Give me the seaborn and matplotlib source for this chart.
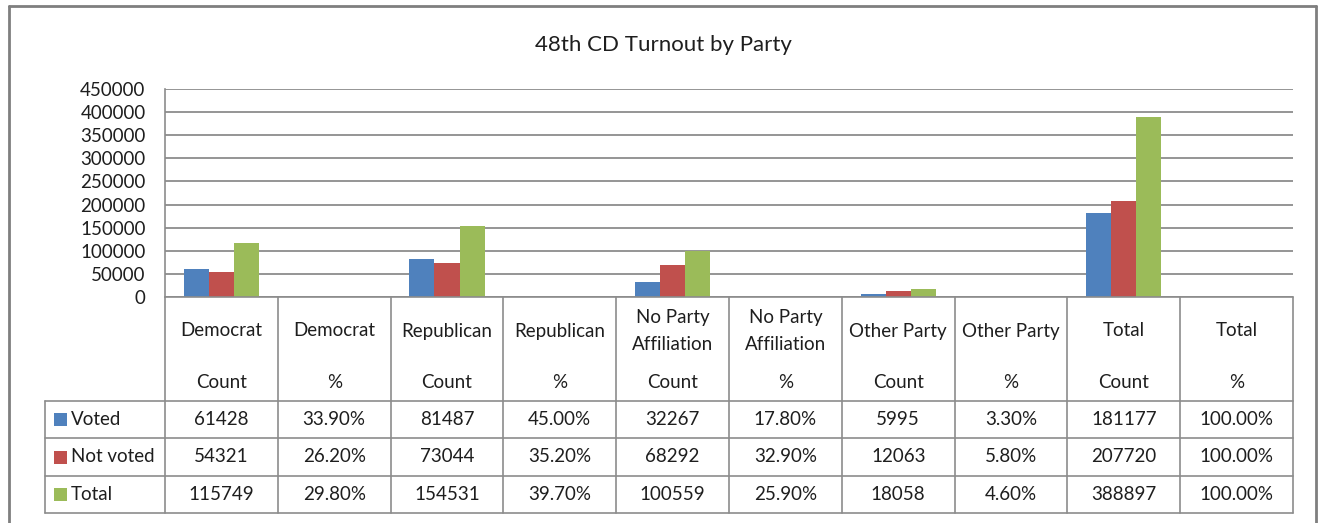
import pandas as pd
import seaborn as sns
import matplotlib.pyplot as plt
from matplotlib.transforms import blended_transform_factory
from matplotlib.lines import Line2D
from matplotlib.patches import Rectangle

parties = ["Democrat", "Democrat", "Republican", "Republican",
           "No Party\nAffiliation", "No Party\nAffiliation",
           "Other Party", "Other Party", "Total", "Total"]
measures = ["Count", "%", "Count", "%", "Count", "%", "Count", "%", "Count", "%"]
series = ["Voted", "Not voted", "Total"]
voted = [61428, 0.339, 81487, 0.450, 32267, 0.178, 5995, 0.033, 181177, 1.0]
not_voted = [54321, 0.262, 73044, 0.352, 68292, 0.329, 12063, 0.058, 207720, 1.0]
total = [115749, 0.298, 154531, 0.397, 100559, 0.259, 18058, 0.046, 388897, 1.0]
colors = ["#4F81BD", "#C0504D", "#9BBB59"]

# long format for seaborn
cols = [f"{p} {m}" for p, m in zip(parties, measures)]
rows = []
for name, vals in zip(series, [voted, not_voted, total]):
    for c, v in zip(cols, vals):
        rows.append({"col": c, "series": name, "value": v})
df = pd.DataFrame(rows)

W, H = 1319, 523
FS = 13.5
sns.set_style("white")
plt.rcParams["font.family"] = ["Lato", "DejaVu Sans"]
txt = "#1e1e1e"
line_c = "#8c8c8c"

fig = plt.figure(figsize=(W / 100, H / 100), dpi=100)
# plot area in pixels: x 165..1293, y 89..297
ax = fig.add_axes([165 / W, (H - 297) / H, (1293 - 165) / W, 208 / H])

sns.barplot(data=df, x="col", y="value", hue="series", order=cols,
            hue_order=series, palette=colors, width=0.665, gap=0,
            linewidth=0, saturation=1, legend=False, ax=ax)

ax.set_xlim(-0.5, len(cols) - 0.5)
ax.set_ylim(0, 450000)
ax.set_yticks(range(0, 450001, 50000))
ax.set_yticklabels([str(v) for v in range(0, 450001, 50000)], fontsize=FS, color=txt)
ax.tick_params(axis="y", length=0, pad=14)
ax.set_xticks([])
ax.set_xlabel("")
ax.set_ylabel("")
ax.yaxis.grid(True, color=line_c, lw=1.3)
ax.set_axisbelow(True)
for s in ["top", "right", "bottom"]:
    ax.spines[s].set_visible(False)
ax.spines["left"].set_color(line_c)
ax.spines["left"].set_linewidth(1.2)

# data table under the plot: x in data units, y in axes fraction
tr = blended_transform_factory(ax.transData, ax.transAxes)
col_px = (1293 - 165) / len(cols)


def yf(py):
    return (297 - py) / 208


def xd(px):
    return -0.5 + (px - 165) / col_px


def hline(x0, x1, py):
    ax.add_line(Line2D([x0, x1], [yf(py), yf(py)], transform=tr, color=line_c,
                       lw=1.2, clip_on=False))


def vline(x, py0, py1):
    ax.add_line(Line2D([x, x], [yf(py0), yf(py1)], transform=tr, color=line_c,
                       lw=1.2, clip_on=False))


def cell(x, py, s, ha="center"):
    ax.text(x, yf(py), s, transform=tr, ha=ha, va="center", fontsize=FS, color=txt)


n = len(cols)
leg_x = xd(45)
row_y = [401, 438, 476, 513]
hline(-0.5, n - 0.5, 297)
for py in row_y:
    hline(leg_x, n - 0.5, py)
for i in range(n + 1):
    vline(i - 0.5, 297, 513)
vline(leg_x, 401, 513)

# header cells
for i, (p, m) in enumerate(zip(parties, measures)):
    if "\n" in p:
        a, b = p.split("\n")
        cell(i, 317, a)
        cell(i, 345, b)
    else:
        cell(i, 331, p)
    cell(i, 383, m)

# data cells with legend keys
centers = [419.5, 457, 494.5]
for r, (name, vals, c) in enumerate(zip(series, [voted, not_voted, total], colors)):
    cy = centers[r]
    ax.add_patch(Rectangle((xd(54), yf(cy + 6.5)), 13 / col_px, 13 / 208,
                           transform=tr, facecolor=c, edgecolor="none", clip_on=False))
    cell(xd(71), cy, name, ha="left")
    for i, (m, v) in enumerate(zip(measures, vals)):
        s = f"{int(v)}" if m == "Count" else f"{v * 100:.2f}%"
        cell(i, cy, s)

# title and chart border
fig.text(663 / W, 1 - 45 / H, "48th CD Turnout by Party", ha="center", va="center",
         fontsize=16, color=txt)
for xs, ys in [([9, 9], [6, 523]), ([9, 1316], [6, 6]), ([1316, 1316], [6, 523])]:
    fig.add_artist(Line2D([x / W for x in xs], [1 - y / H for y in ys],
                          color="#7f7f7f", lw=2))

fig.savefig("out.png", dpi=100, facecolor="white")
